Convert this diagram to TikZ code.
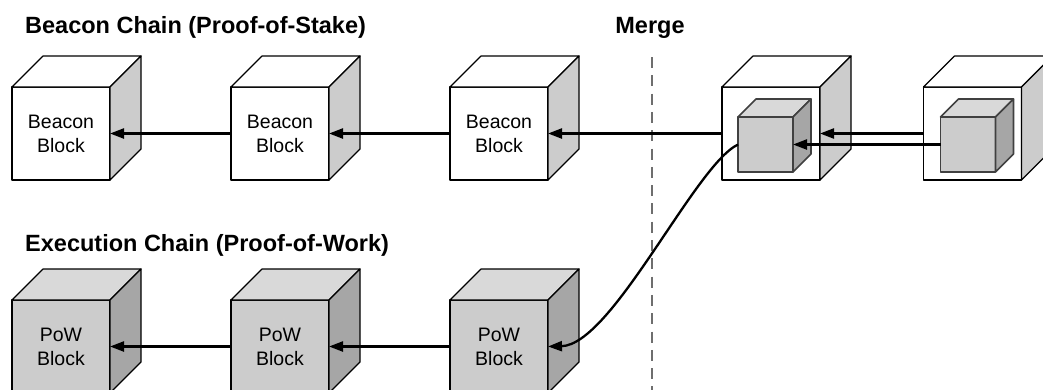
\documentclass[tikz,border=0pt]{standalone}
\usepackage{fontspec}
\setmainfont{Liberation Sans}
\usepackage{tikz}
\usetikzlibrary{arrows.meta}

\definecolor{sidegray}{HTML}{CCCCCC}
\definecolor{powfront}{HTML}{CCCCCC}
\definecolor{powtop}{HTML}{D9D9D9}
\definecolor{powside}{HTML}{A6A6A6}
\definecolor{innerline}{HTML}{404040}
\definecolor{mergegray}{HTML}{6E6E6E}

\newcommand{\blockfont}{\fontsize{19.5}{24}\selectfont}
\newcommand{\titlefont}{\fontsize{23.5}{27}\selectfont\bfseries}

\tikzset{
	face/.style={draw=black, line width=1.2pt, line join=round},
	beacon/.style={face, fill=white, minimum width=98pt, minimum height=93pt,
	               inner sep=0pt, outer sep=0pt, align=center, font=\blockfont},
	pow/.style={beacon, fill=powfront},
	inner/.style={face, draw=innerline, line width=1.6pt, fill=powfront,
	              minimum width=55pt, minimum height=55pt, inner sep=0pt, outer sep=0pt},
	link/.style={-{Triangle[length=14pt,width=10pt]}, line width=2.3pt},
	mergeline/.style={draw=mergegray, line width=2.6pt, dash pattern=on 11pt off 7.3pt},
	chaintitle/.style={font=\titlefont, anchor=base west, inner sep=0pt}
}

\begin{document}
\begin{tikzpicture}[x=1pt,y=-1pt]
	\useasboundingbox (0,0) rectangle (1043,389);
	\clip (0,0) rectangle (1043,389);

	\node[chaintitle] (beacontitle) at (25,33) {Beacon Chain (Proof-of-Stake)};
	\node[chaintitle] (exectitle) at (25,251) {Execution Chain (Proof-of-Work)};
	\node[font=\titlefont, anchor=base, inner sep=0pt] (merge) at (650,33) {Merge};

	\coordinate (mtop) at (652,57);
	\coordinate (mbot) at (652,395);
	\draw[mergeline] (mtop) -- (mbot);

	\begin{scope}[every node/.style={beacon}]
		\node (b1) at (61,133.5) {Beacon\\Block};
		\node (b2) at (280,133.5) {Beacon\\Block};
		\node (b3) at (499,133.5) {Beacon\\Block};
		\node (m1) at (771,133.5) {};
		\node (m2) at (972.5,133.5) {};
	\end{scope}
	\foreach \n in {b1,b2,b3,m1,m2} {
		\draw[face, fill=white] (\n.north west) -- ++(31,-31) -- ++(98,0) -- (\n.north east) -- cycle;
		\draw[face, fill=sidegray] (\n.north east) -- ++(31,-31) -- ++(0,93) -- (\n.south east) -- cycle;
	}

	\begin{scope}[every node/.style={pow}]
		\node (p1) at (61,346.5) {PoW\\Block};
		\node (p2) at (280,346.5) {PoW\\Block};
		\node (p3) at (499,346.5) {PoW\\Block};
	\end{scope}
	\foreach \n in {p1,p2,p3} {
		\draw[face, fill=powtop] (\n.north west) -- ++(31,-31) -- ++(98,0) -- (\n.north east) -- cycle;
		\draw[face, fill=powside] (\n.north east) -- ++(31,-31) -- ++(0,93) -- (\n.south east) -- cycle;
	}

	\node[inner] (i1) at (765.5,144.5) {};
	\node[inner] (i2) at (968,144.5) {};
	\foreach \n in {i1,i2} {
		\draw[face, draw=innerline, line width=1.6pt, fill=powtop] (\n.north west) -- ++(18,-18) -- ++(55,0) -- (\n.north east) -- cycle;
		\draw[face, draw=innerline, line width=1.6pt, fill=powside] (\n.north east) -- ++(18,-18) -- ++(0,55) -- (\n.south east) -- cycle;
	}

	\draw[link] (b2.west) -- (b1.east);
	\draw[link] (b3.west) -- (b2.east);
	\draw[link] (m1.west) -- (b3.east);
	\draw[link] (m2.west) -- (m1.east);
	\draw[link] (i2.west) -- (i1.east);
	\draw[link] (p2.west) -- (p1.east);
	\draw[link] (p3.west) -- (p2.east);
	\draw[link] (i1.west) .. controls (695,165) and (612,345) .. (p3.east);
\end{tikzpicture}
\end{document}
